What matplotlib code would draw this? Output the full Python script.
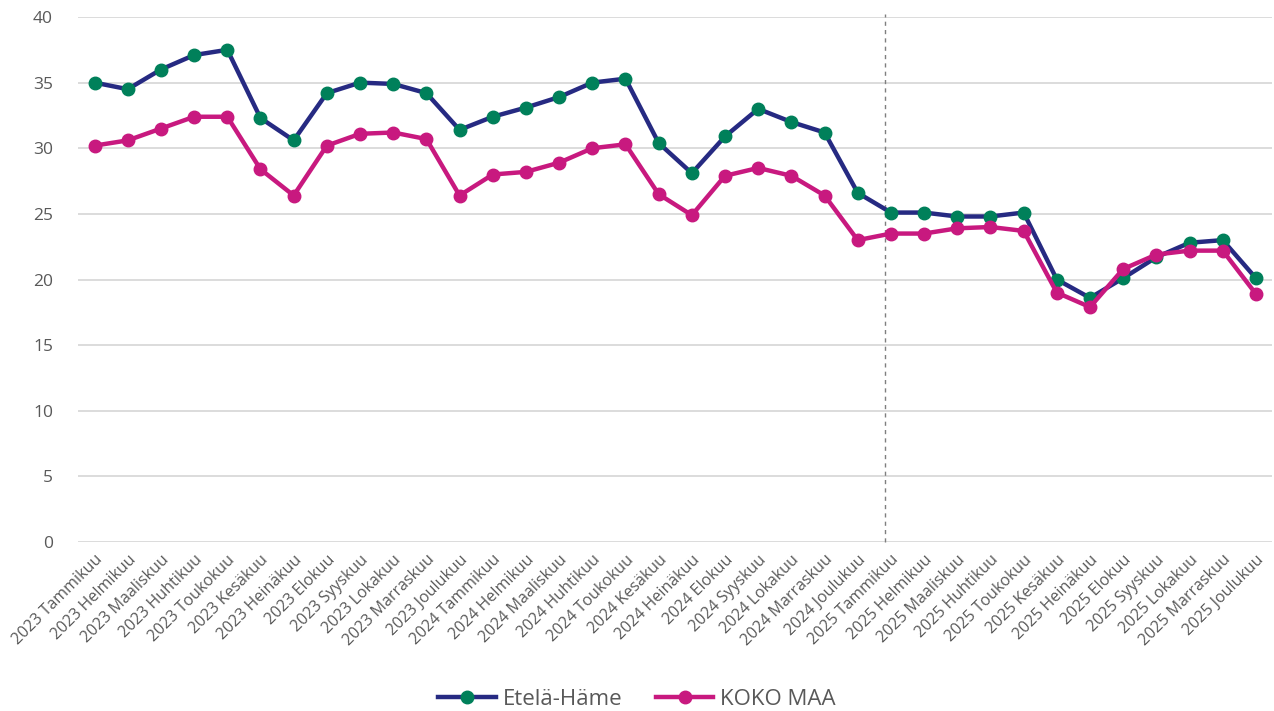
import matplotlib
matplotlib.use("Agg")
import matplotlib.pyplot as plt

months = ["Tammikuu", "Helmikuu", "Maaliskuu", "Huhtikuu", "Toukokuu", "Kesäkuu",
          "Heinäkuu", "Elokuu", "Syyskuu", "Lokakuu", "Marraskuu", "Joulukuu"]
years = [2023, 2024, 2025]
categories = [f"{y} {m}" for y in years for m in months]

etela_hame = [35.0, 34.5, 36.0, 37.1, 37.5, 32.3, 30.6, 34.2, 35.0, 34.9, 34.2, 31.4,
              32.4, 33.1, 33.9, 35.0, 35.3, 30.4, 28.1, 30.9, 33.0, 32.0, 31.2, 26.6,
              25.1, 25.1, 24.8, 24.8, 25.1, 20.0, 18.6, 20.1, 21.7, 22.8, 23.0, 20.1]
koko_maa = [30.2, 30.6, 31.5, 32.4, 32.4, 28.4, 26.4, 30.2, 31.1, 31.2, 30.7, 26.4,
            28.0, 28.2, 28.9, 30.0, 30.3, 26.5, 24.9, 27.9, 28.5, 27.9, 26.4, 23.0,
            23.5, 23.5, 23.9, 24.0, 23.7, 19.0, 17.9, 20.8, 21.9, 22.2, 22.2, 18.9]
divider_pos = 23.82
yticks = [0, 5, 10, 15, 20, 25, 30, 35, 40]

plt.rcParams['font.family'] = ['Open Sans', 'DejaVu Sans']

fig = plt.figure(figsize=(12.74, 7.11), dpi=100)
ax = fig.add_axes([78/1274, 1 - 542/711, (1272.5 - 78)/1274, (542 - 17)/711])

x = list(range(len(categories)))
ax.plot(x, etela_hame, color="#262A82", lw=3.2, marker="o", ms=9,
        mfc="#00805A", mec="#00805A", label="Etelä-Häme", zorder=3)
ax.plot(x, koko_maa, color="#C8197F", lw=3.2, marker="o", ms=9,
        mfc="#C8197F", mec="#C8197F", label="KOKO MAA", zorder=4)

ax.axvline(divider_pos, ymin=0, ymax=1.005, color="#7F7F7F", lw=1.0,
           ls=(0, (3, 3)), zorder=2, clip_on=False)

ax.set_xlim(-0.5, len(categories) - 0.5)
ax.set_ylim(0, 40)
ax.set_yticks(yticks)
ax.yaxis.grid(True, color="#D9D9D9", lw=1.3)
ax.set_axisbelow(True)
for s in ax.spines.values():
    s.set_visible(False)
ax.tick_params(axis="both", length=0, colors="#595959")
ax.tick_params(axis="y", labelsize=12.5, pad=18)
ax.set_xticks(x)
ax.set_xticklabels(categories, rotation=45, ha="right", rotation_mode="anchor",
                   fontsize=11.5)
ax.tick_params(axis="x", pad=7)

leg = fig.legend(loc="lower center", bbox_to_anchor=(0.5, -0.027), ncol=2,
                 frameon=False, fontsize=16, handlelength=2.6, columnspacing=1.5,
                 handletextpad=0.3)
for t in leg.get_texts():
    t.set_color("#595959")

fig.savefig("out.png", dpi=100)
